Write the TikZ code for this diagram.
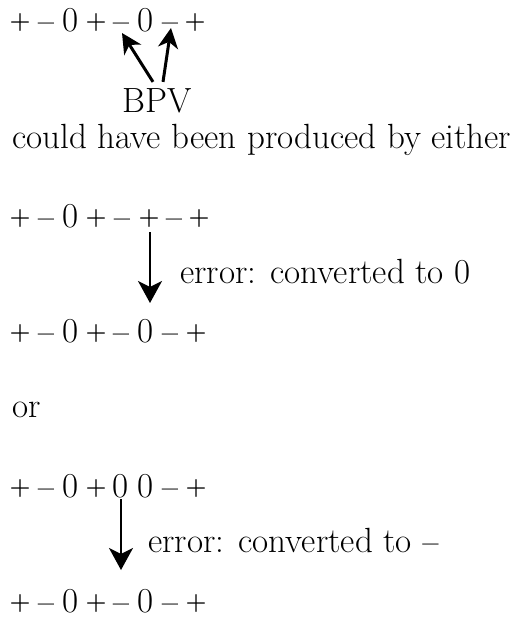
\documentclass[tikz,border=0pt]{standalone}
\usetikzlibrary{arrows.meta}
\begin{document}
\begin{tikzpicture}[x=1pt,y=-1pt,
  txt/.style={inner sep=0pt, anchor=base west, font=\fontsize{35}{42}\selectfont},
  symb/.style={inner sep=0pt, anchor=base, font=\fontsize{35}{42}\selectfont},
  psym/.style={symb, yshift=3pt, font=\fontsize{24}{29}\selectfont\bfseries},
  msym/.style={symb, font=\fontsize{29}{35}\selectfont\bfseries},
  zsym/.style={symb},
  bpvarrow/.style={line width=3pt, -{Stealth[length=20pt,width=20pt,inset=6pt]}},
  errarrow/.style={line width=1.8pt, -{Stealth[length=22pt,width=24pt,inset=6pt]}}]
\useasboundingbox (0,0) rectangle (522,618);
% row 1
\node[psym] (r1a) at (20,32) {+};
\node[msym] (r1b) at (46,32) {–};
\node[zsym] (r1c) at (71,32) {0};
\node[psym] (r1d) at (96,32) {+};
\node[msym] (r1e) at (121,32) {–};
\node[zsym] (r1f) at (146,32) {0};
\node[msym] (r1g) at (170,32) {–};
\node[psym] (r1h) at (195,32) {+};
\node[txt, anchor=base] (bpv) at (157,112) {BPV};
\draw[bpvarrow] ([xshift=-4pt,yshift=6pt]bpv.north) -- ([xshift=1pt,yshift=-1pt]r1e.base);
\draw[bpvarrow] ([xshift=6pt,yshift=6pt]bpv.north) -- ([xshift=1pt,yshift=4pt]r1g.base);
\node[txt] (could) at (12,148) {could have been produced by either};
% row 2
\node[psym] (r2a) at (20,227) {+};
\node[msym] (r2b) at (46,227) {–};
\node[zsym] (r2c) at (71,227) {0};
\node[psym] (r2d) at (96,227) {+};
\node[msym] (r2e) at (122,227) {–};
\node[psym] (r2f) at (149,227) {+};
\node[msym] (r2g) at (174,227) {–};
\node[psym] (r2h) at (199,227) {+};
% row 3
\node[psym] (r3a) at (20,342) {+};
\node[msym] (r3b) at (46,342) {–};
\node[zsym] (r3c) at (71,342) {0};
\node[psym] (r3d) at (96,342) {+};
\node[msym] (r3e) at (121,342) {–};
\node[zsym] (r3f) at (146,342) {0};
\node[msym] (r3g) at (170,342) {–};
\node[psym] (r3h) at (196,342) {+};
\draw[errarrow] ([xshift=1pt,yshift=-8pt]r2f.base) -- ([xshift=4pt,yshift=39pt]r3f.base);
\node[txt] (err1) at (180,283) {error: converted to 0};
\node[txt] (or) at (12,417) {or};
% row 4
\node[psym] (r4a) at (20,497) {+};
\node[msym] (r4b) at (46,497) {–};
\node[zsym] (r4c) at (71,497) {0};
\node[psym] (r4d) at (96,497) {+};
\node[zsym] (r4e) at (121,497) {0};
\node[zsym] (r4f) at (146,497) {0};
\node[msym] (r4g) at (170,497) {–};
\node[psym] (r4h) at (196,497) {+};
% row 5
\node[psym] (r5a) at (20,612) {+};
\node[msym] (r5b) at (46,612) {–};
\node[zsym] (r5c) at (71,612) {0};
\node[psym] (r5d) at (96,612) {+};
\node[msym] (r5e) at (121,612) {–};
\node[zsym] (r5f) at (146,612) {0};
\node[msym] (r5g) at (170,612) {–};
\node[psym] (r5h) at (196,612) {+};
\draw[errarrow] ([yshift=-2pt]r4e.base) -- ([yshift=42pt]r5e.base);
\node[txt] (err2) at (148,552) {error: converted to {\fontsize{29}{35}\selectfont\bfseries –}};
\end{tikzpicture}
\end{document}
